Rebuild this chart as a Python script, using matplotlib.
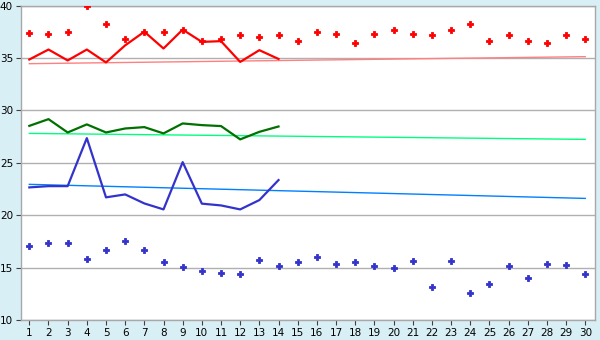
import matplotlib
matplotlib.use("Agg")
import matplotlib.pyplot as plt

days = list(range(1, 31))
days14 = list(range(1, 15))

red_points = [37.33, 37.24, 37.52, 40.0, 38.28, 36.76, 37.52, 37.52, 37.71, 36.63,
              36.76, 37.14, 37.04, 37.14, 36.57, 37.43, 37.24, 36.47, 37.24, 37.62,
              37.24, 37.14, 37.71, 38.28, 36.66, 37.14, 36.57, 36.47, 37.14, 36.85]
red_line = [34.85, 35.8, 34.76, 35.8, 34.57, 36.2, 37.5, 35.9, 37.7, 36.53,
            36.6, 34.62, 35.74, 34.9]
red_trend = [34.45, 35.12]

green_line = [28.52, 29.16, 27.89, 28.66, 27.89, 28.27, 28.4, 27.8, 28.75, 28.59,
              28.5, 27.23, 27.95, 28.46]
green_trend = [27.8, 27.23]

blue_line = [22.65, 22.77, 22.77, 27.35, 21.7, 21.98, 21.12, 20.55, 25.06, 21.1,
             20.93, 20.55, 21.44, 23.35]
blue_trend = [22.94, 21.6]
blue_points = [17.02, 17.31, 17.31, 15.79, 16.64, 17.5, 16.64, 15.5, 15.02, 14.64,
               14.45, 14.36, 15.69, 15.12, 15.5, 15.98, 15.31, 15.5, 15.12, 14.93,
               15.6, 13.12, 15.6, 12.55, 13.4, 15.12, 13.98, 15.31, 15.21, 14.36]

yticks = [10, 15, 20, 25, 30, 35, 40]

fig = plt.figure(figsize=(6, 3.4), dpi=100)
fig.patch.set_facecolor("#D9EFF6")
ax = fig.add_axes([0.0345, 0.0588, 0.9575, 0.925])
ax.set_facecolor("white")

for y in yticks:
    ax.axhline(y, color="#B0B0B0", lw=1.0, zorder=1)

ends = [days[0], days[-1]]
ax.plot(ends, red_trend, color="#FF8080", lw=1.0, zorder=2)
ax.plot(ends, green_trend, color="#00FF80", lw=1.0, zorder=2)
ax.plot(ends, blue_trend, color="#0080FF", lw=1.0, zorder=2)

ax.plot(days14, red_line, color="#FF0000", lw=1.6, zorder=3)
ax.plot(days14, green_line, color="#007000", lw=1.6, zorder=3)
ax.plot(days14, blue_line, color="#3333CC", lw=1.6, zorder=3)

ax.plot(days, red_points, ls="none", marker="P", ms=4.8, color="#FF0000",
        mec="#FF0000", mew=0.6, zorder=4)
ax.plot(days, blue_points, ls="none", marker="P", ms=4.8, color="#3333CC",
        mec="#3333CC", mew=0.6, zorder=4)

ax.set_xlim(0.55, 30.52)
ax.set_ylim(10, 40)
ax.set_xticks(days)
ax.set_xticklabels([str(d) for d in days])
ax.set_yticks(yticks)
ax.tick_params(axis="both", labelsize=7.5, color="#404040", labelcolor="black",
               length=3.5, width=0.8, pad=2)
for s in ax.spines.values():
    s.set_color("#A8A8A8")
    s.set_linewidth(1.0)

fig.savefig("out.png", dpi=100)
